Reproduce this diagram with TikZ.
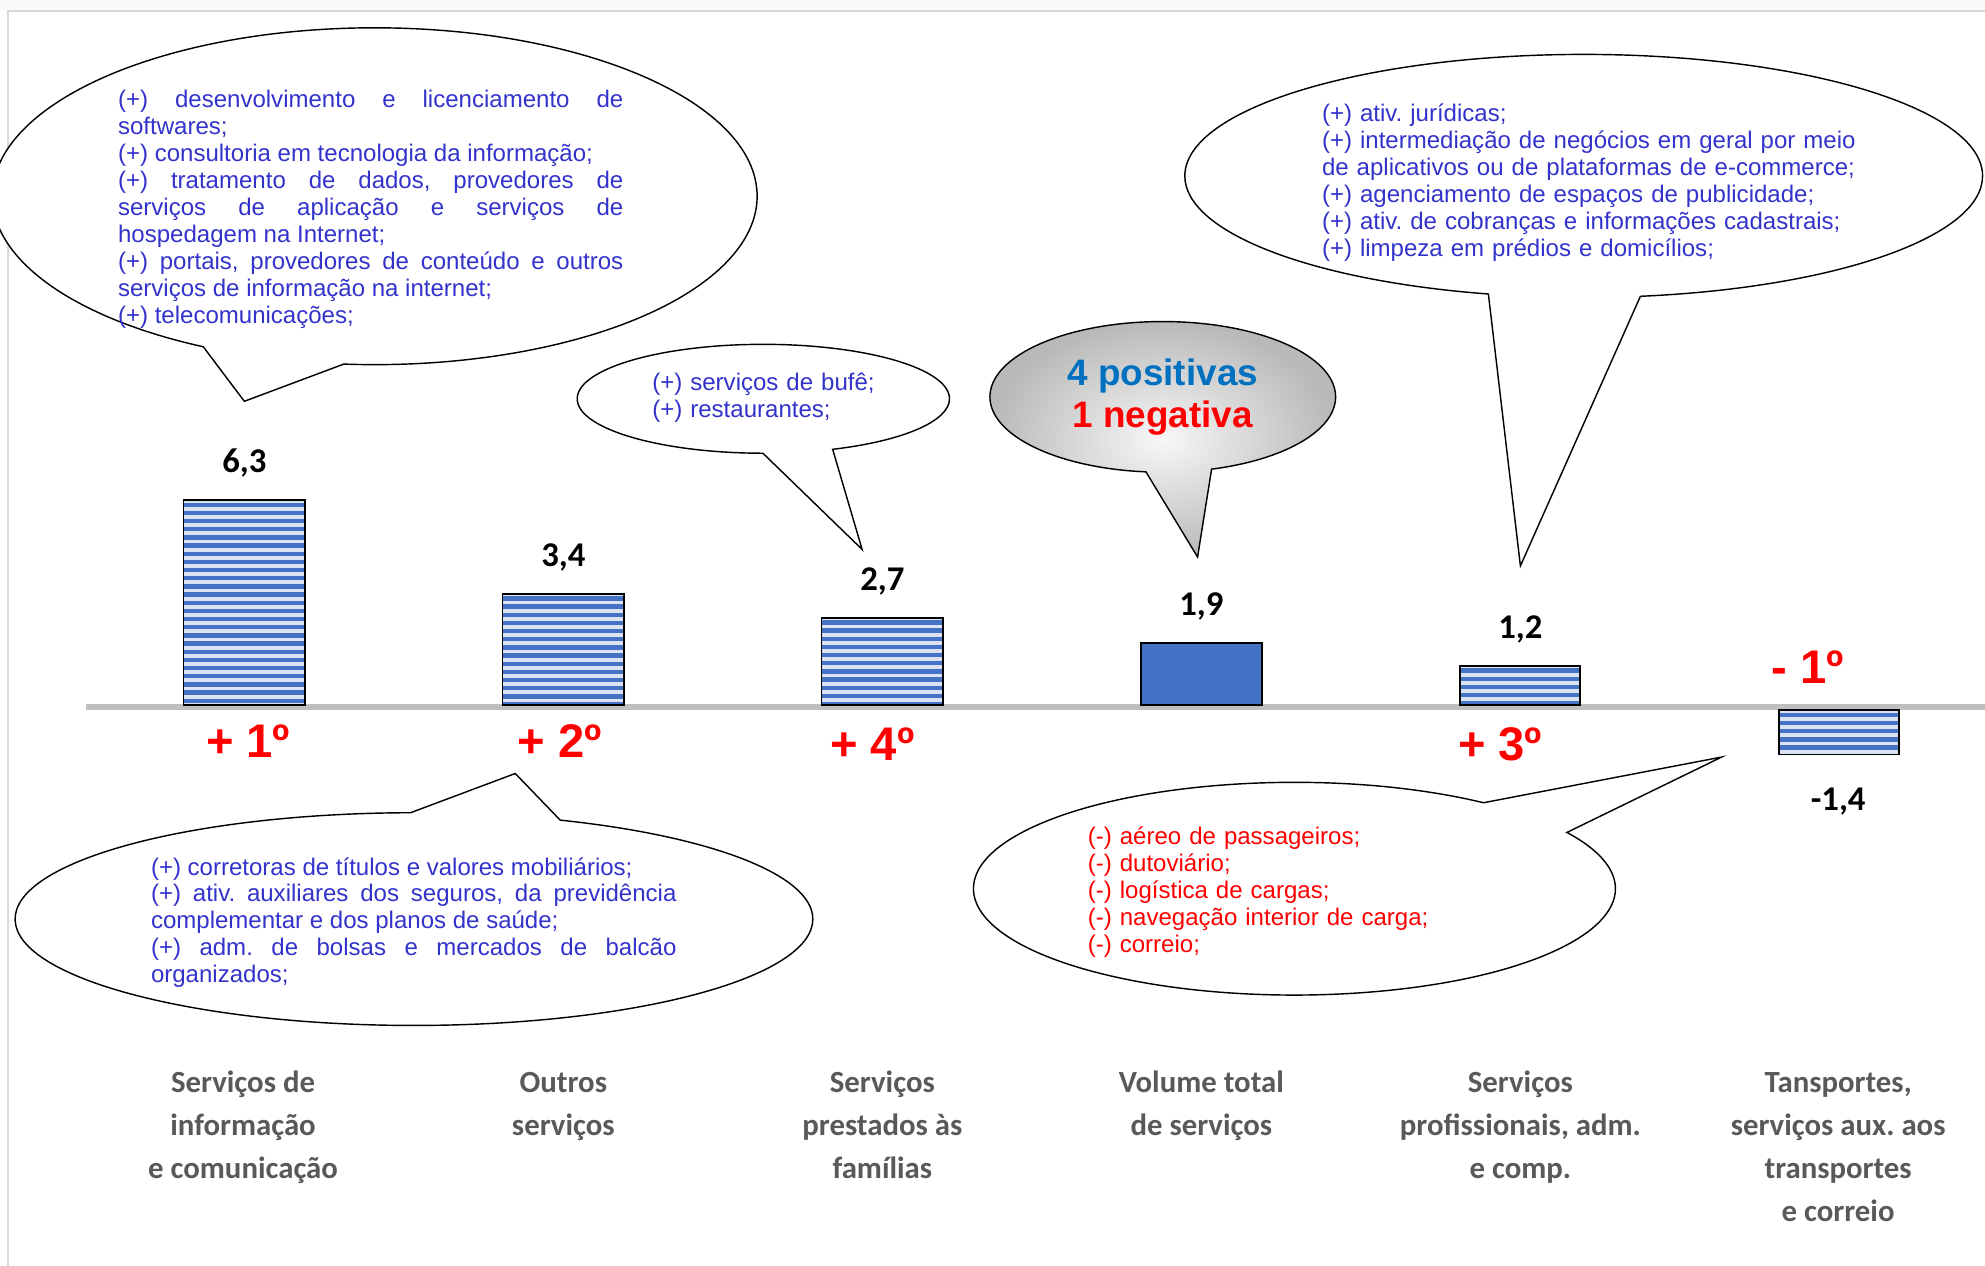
\documentclass[tikz,border=0pt]{standalone}
\usepackage{fontspec}
\setmainfont{Liberation Sans}
\newfontfamily\calibri{Carlito}
\usetikzlibrary{shapes.callouts}
\definecolor{txtblue}{RGB}{51,51,204}
\definecolor{posblue}{RGB}{0,112,192}
\definecolor{barblue}{RGB}{68,114,196}
\definecolor{barlight}{RGB}{218,227,243}
\definecolor{labgray}{RGB}{89,89,89}
\definecolor{axisgray}{RGB}{191,191,191}
\definecolor{framegray}{RGB}{217,217,217}
\setlength{\parindent}{0pt}
\setlength{\parskip}{0pt}
\hyphenpenalty=10000
\exhyphenpenalty=10000
\frenchspacing

% striped bar: left, top, right, bottom
\newcommand{\stripebar}[4]{%
  \fill[barlight] (#1,#2) rectangle (#3,#4);
  \begin{scope}
    \clip (#1,#2) rectangle (#3,#4);
    \foreach \s in {0,...,26}
      \fill[barblue] (#1,#2+2+\s*6.45) rectangle (#3,#2+5.4+\s*6.45);
  \end{scope}
  \draw[black,line width=1pt] (#1,#2) rectangle (#3,#4);}

\begin{document}
\begin{tikzpicture}[x=0.025cm,y=-0.025cm]
      \tikzstyle{bubble}=[ellipse callout,draw=black,fill=white,line width=0.8pt,inner sep=0pt,callout pointer arc=22];
      \tikzstyle{btext}=[anchor=north west,inner sep=0pt,text=txtblue,font=\fontsize{13.5}{15.15}\selectfont];
      \tikzstyle{value}=[anchor=base,inner sep=0pt,font=\calibri\bfseries\fontsize{19.5}{22}\selectfont];
      \tikzstyle{rank}=[anchor=base,inner sep=0pt,text=red,font=\bfseries\fontsize{26.5}{30}\selectfont];
      \tikzstyle{cat}=[anchor=north,align=center,inner sep=0pt,text=labgray,font=\calibri\bfseries\fontsize{17.3}{24.2}\selectfont];

      \useasboundingbox (0,0) rectangle (1568,1000);
      \fill[gray!4] (0,0) rectangle (1568,9);
      \draw[framegray,line width=1.2pt] (6,1000) -- (6,9) -- (1568,9);

      % axis and bars
      \draw[axisgray,line width=3.3pt] (68,558.5) -- (1568,558.5);
      \stripebar{145}{395}{241}{557}
      \stripebar{397}{469}{493}{557}
      \stripebar{649}{488}{745}{557}
      \path[draw=black,line width=1pt,fill=barblue] (901,508) rectangle (997,557);
      \stripebar{1153}{526}{1248}{557}
      \stripebar{1405}{561}{1500}{596}

      \node[value](v1) at (193,373.5) {6,3};
      \node[value](v2) at (445,447.5) {3,4};
      \node[value](v3) at (697,466.5) {2,7};
      \node[value](v4) at (949,486.5) {1,9};
      \node[value](v5) at (1201,504.5) {1,2};
      \node[value](v6) at (1452,640) {-1,4};

      % callouts
      \coordinate (tip1) at (193,317);
      \coordinate (tip2) at (681,434);
      \coordinate (tip3) at (946,440);
      \coordinate (tip4) at (1201,447);
      \coordinate (tip5) at (407,611);
      \coordinate (tip6) at (1360,598);

      \node[bubble,minimum width=15.1cm,minimum height=6.65cm,callout absolute pointer={(tip1)}](info) at (296,155) {};
      \node[bubble,minimum width=7.35cm,minimum height=2.15cm,callout absolute pointer={(tip2)}](fam) at (603,315) {};
      \node[bubble,minimum width=6.825cm,minimum height=2.975cm,callout absolute pointer={(tip3)},inner color=white!94!gray,outer color=gray!55,align=center,font=\bfseries\fontsize{20.7}{23.5}\selectfont](total) at (918.5,313.5) {\textcolor{posblue}{4 positivas}\\\textcolor{red}{1 negativa}};
      \node[bubble,minimum width=15.75cm,minimum height=4.8cm,callout absolute pointer={(tip4)}](prof) at (1251,139) {};
      \node[bubble,minimum width=15.75cm,minimum height=4.2cm,callout absolute pointer={(tip5)}](outros) at (327,726) {};
      \node[bubble,minimum width=12.675cm,minimum height=4.2cm,callout absolute pointer={(tip6)}](transp) at (1022.5,702) {};

      \node[btext,text width=9.975cm,align=justify](infotxt) at (93,70) {\strut(+) desenvolvimento e licenciamento de\linebreak softwares;\par
        (+) consultoria em tecnologia da informação;\par
        (+) tratamento de dados, provedores de\linebreak serviços de aplicação e serviços de\linebreak hospedagem na Internet;\par
        (+) portais, provedores de conteúdo e outros\linebreak serviços de informação na internet;\par
        (+) telecomunicações;};
      \node[btext,text width=5cm,align=left](famtxt) at (515,293) {\strut(+) serviços de bufê;\\(+) restaurantes;};
      \node[btext,text width=11cm,align=left](proftxt) at (1044,81) {\strut(+) ativ. jurídicas;\\
        (+) intermediação de negócios em geral por meio\\
        de aplicativos ou de plataformas de e-commerce;\\
        (+) agenciamento de espaços de publicidade;\\
        (+) ativ. de cobranças e informações cadastrais;\\
        (+) limpeza em prédios e domicílios;};
      \node[btext,text width=10.375cm,align=justify](outrostxt) at (119,676) {\strut(+) corretoras de títulos e valores mobiliários;\par
        (+) ativ. auxiliares dos seguros, da previdência\linebreak complementar e dos planos de saúde;\par
        (+) adm. de bolsas e mercados de balcão\linebreak organizados;};
      \node[btext,text width=8cm,align=left,text=red](transptxt) at (859,652) {\strut(-) aéreo de passageiros;\\
        (-) dutoviário;\\
        (-) logística de cargas;\\
        (-) navegação interior de carga;\\
        (-) correio;};

      % ranking
      \node[rank](r1) at (196,598) {+ 1º};
      \node[rank](r2) at (442,598) {+ 2º};
      \node[rank](r4) at (689,601) {+ 4º};
      \node[rank](r3) at (1185,601) {+ 3º};
      \node[rank](rn) at (1428,540) {- 1º};

      % categories
      \node[cat](c1) at (192,839) {\strut Serviços de\\informação\\e comunicação};
      \node[cat](c2) at (445,839) {\strut Outros\\serviços};
      \node[cat](c3) at (697,839) {\strut Serviços\\prestados às\\famílias};
      \node[cat](c4) at (949,839) {\strut Volume total\\de serviços};
      \node[cat](c5) at (1201,839) {\strut Serviços\\profissionais, adm.\\e comp.};
      \node[cat](c6) at (1452,839) {\strut Tansportes,\\serviços aux. aos\\transportes\\e correio};

    \end{tikzpicture}
\end{document}
